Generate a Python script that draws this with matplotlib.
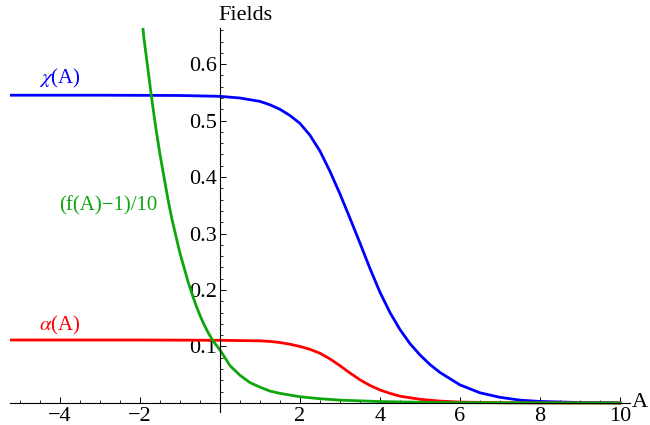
import matplotlib
matplotlib.use("Agg")
import matplotlib.pyplot as plt
from matplotlib.ticker import MultipleLocator, FixedLocator

# values
chi_A = [-5.3, -3.0, -1.0, 0.0, 0.5, 1.0, 1.25, 1.5, 1.75, 2.0, 2.25, 2.5, 2.75, 3.0,
         3.25, 3.5, 3.75, 4.0, 4.25, 4.5, 4.75, 5.0, 5.25, 5.5, 6.0, 6.5, 7.0, 7.5,
         8.0, 9.0, 10.0]
chi = [0.545, 0.545, 0.5445, 0.543, 0.540, 0.534, 0.528, 0.520, 0.509, 0.495, 0.474,
       0.446, 0.410, 0.370, 0.327, 0.283, 0.238, 0.196, 0.160, 0.130, 0.105, 0.085,
       0.068, 0.054, 0.032, 0.018, 0.010, 0.005, 0.0027, 0.0008, 0.0002]

alpha_A = [-5.3, -2.0, 0.0, 1.0, 1.25, 1.5, 1.75, 2.0, 2.25, 2.5, 2.75, 3.0, 3.25,
           3.5, 3.75, 4.0, 4.25, 4.5, 5.0, 5.5, 6.0, 7.0, 8.0, 10.0]
alpha = [0.1115, 0.1115, 0.111, 0.110, 0.109, 0.107, 0.104, 0.100, 0.095, 0.088,
         0.078, 0.066, 0.053, 0.041, 0.031, 0.023, 0.017, 0.012, 0.0065, 0.0033,
         0.0016, 0.0004, 0.0001, 0.0]

f_A = [-1.95, -1.9, -1.8, -1.7, -1.6, -1.5, -1.4, -1.3, -1.2, -1.1, -1.0, -0.9, -0.8,
       -0.7, -0.6, -0.5, -0.4, -0.3, -0.2, -0.1, 0.0, 0.25, 0.5, 0.75, 1.0, 1.25,
       1.5, 2.0, 2.5, 3.0, 4.0, 5.0, 6.0, 8.0, 10.0]
f_val = [0.68, 0.645, 0.59, 0.535, 0.485, 0.44, 0.40, 0.36, 0.325, 0.295, 0.265,
         0.24, 0.215, 0.193, 0.173, 0.155, 0.139, 0.125, 0.113, 0.103, 0.094, 0.066,
         0.049, 0.036, 0.028, 0.021, 0.017, 0.011, 0.0075, 0.005, 0.0025, 0.0012,
         0.0006, 0.0002, 0.0]

x_ticks = [-4, -2, 2, 4, 6, 8, 10]
x_labels = ["\u22124", "\u22122", "2", "4", "6", "8", "10"]
y_ticks = [0.1, 0.2, 0.3, 0.4, 0.5, 0.6]
y_labels = ["0.1", "0.2", "0.3", "0.4", "0.5", "0.6"]

plt.rcParams['font.family'] = ['Liberation Serif', 'DejaVu Serif']
plt.rcParams['mathtext.fontset'] = 'stix'

fig = plt.figure(figsize=(6.5, 4.25), dpi=100)
ax = fig.add_axes([10 / 650, 1 - 412 / 425, 620 / 650, 384 / 425])

blue = (0, 0, 1)
red = (1, 0, 0)
green = (0.05, 0.65, 0.05)

ax.plot(chi_A, chi, color=blue, lw=2.0, solid_joinstyle='round')
ax.plot(alpha_A, alpha, color=red, lw=2.0, solid_joinstyle='round')
ax.plot(f_A, f_val, color=green, lw=2.0, solid_joinstyle='round')

ax.set_xlim(-5.25, 10.25)
ax.set_ylim(-0.016, 0.664)

for s in ['top', 'right']:
    ax.spines[s].set_visible(False)
ax.spines['left'].set_position(('data', 0))
ax.spines['bottom'].set_position(('data', 0))
ax.spines['left'].set_linewidth(0.8)
ax.spines['bottom'].set_linewidth(0.8)

ax.xaxis.set_major_locator(FixedLocator(x_ticks))
ax.set_xticklabels(x_labels)
ax.xaxis.set_minor_locator(MultipleLocator(0.5))
ax.yaxis.set_major_locator(FixedLocator(y_ticks))
ax.set_yticklabels(y_labels)
ax.yaxis.set_minor_locator(MultipleLocator(0.02))

ax.tick_params(which='major', direction='in', length=4.5, width=0.7, labelsize=16, pad=3)
ax.tick_params(which='minor', direction='in', length=2.5, width=0.6)
ax.tick_params(axis='y', which='both', pad=2)

ax.text(0.625, 0.687, 'Fields', ha='center', va='center', fontsize=16, clip_on=False)
ax.text(10.5, 0.0, 'A', ha='center', va='center', fontsize=16, clip_on=False)

ax.text(-4.0, 0.575, r'$\chi$(A)', color=blue, ha='center', va='center', fontsize=15)
ax.text(-4.0, 0.138, r'$\alpha$(A)', color=red, ha='center', va='center', fontsize=15)
ax.text(-2.8, 0.349, '(f(A)\u22121)/10', color=green, ha='center', va='center', fontsize=15)

fig.savefig('out.png', dpi=100)
